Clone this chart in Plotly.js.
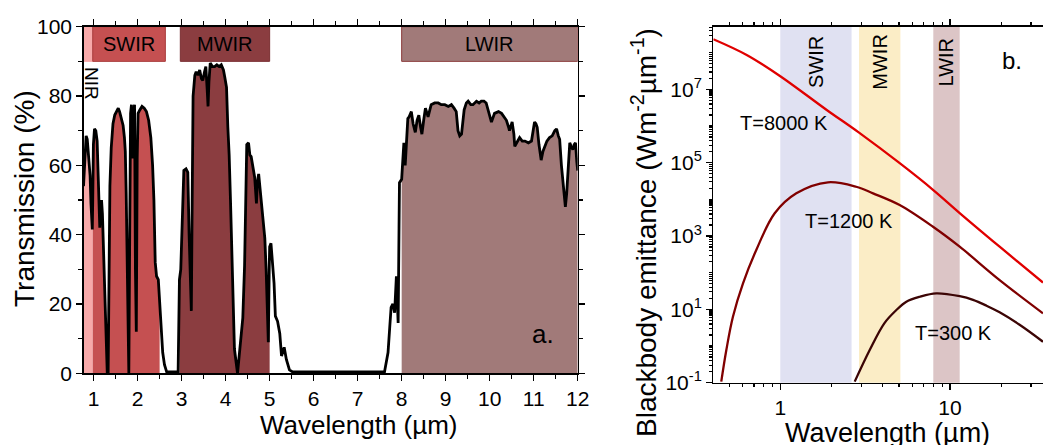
<!DOCTYPE html>
<html>
<head>
<meta charset="utf-8">
<script src="https://cdn.plot.ly/plotly-3.0.1.min.js"></script>
<style>
  html, body { margin: 0; padding: 0; background: #ffffff; overflow: hidden; }
  #chart { width: 1043px; height: 445px; }
</style>
</head>
<body>
<div id="chart"></div>
<script>
// ---------- Panel a: atmospheric transmission ----------
const wavelength = [
  0.77, 0.79, 0.81, 0.83, 0.855, 0.88, 0.90, 0.92, 0.94, 0.96, 0.97, 0.98, 0.995, 1.02, 1.05, 1.08, 1.10, 1.12, 1.14, 1.16,
  1.18, 1.20, 1.23, 1.26, 1.29, 1.31, 1.33, 1.35, 1.37, 1.40, 1.44, 1.48, 1.52, 1.56, 1.59, 1.63, 1.67, 1.70, 1.72, 1.74,
  1.76, 1.78, 1.80, 1.82, 1.84, 1.86, 1.88, 1.90, 1.93, 1.95, 1.97, 1.99, 2.01, 2.05, 2.10, 2.15, 2.20, 2.25, 2.30, 2.34,
  2.37, 2.40, 2.43, 2.47, 2.50, 2.53, 2.57, 2.61, 2.66, 2.92, 2.95, 2.98, 3.02, 3.05, 3.10, 3.14, 3.17, 3.20, 3.22, 3.24,
  3.26, 3.30, 3.33, 3.37, 3.41, 3.45, 3.48, 3.52, 3.55, 3.58, 3.60, 3.62, 3.65, 3.70, 3.75, 3.80, 3.85, 3.90, 3.95, 3.98,
  4.02, 4.05, 4.08, 4.11, 4.13, 4.17, 4.20, 4.27, 4.32, 4.39, 4.43, 4.46, 4.48, 4.52, 4.55, 4.58, 4.62, 4.66, 4.70, 4.72,
  4.75, 4.78, 4.81, 4.85, 4.89, 4.92, 4.95, 4.97, 4.99, 5.00, 5.03, 5.06, 5.10, 5.13, 5.18, 5.23, 5.27, 5.33, 5.38, 5.45,
  5.52, 7.61, 7.69, 7.73, 7.76, 7.80, 7.84, 7.88, 7.92, 7.94, 7.95, 8.00, 8.05, 8.08, 8.11, 8.14, 8.17, 8.22, 8.26, 8.31,
  8.35, 8.39, 8.43, 8.46, 8.50, 8.54, 8.60, 8.67, 8.75, 8.83, 8.90, 8.98, 9.06, 9.13, 9.19, 9.24, 9.28, 9.32, 9.36, 9.42,
  9.47, 9.51, 9.57, 9.62, 9.70, 9.76, 9.81, 9.87, 9.92, 9.97, 10.04, 10.11, 10.20, 10.27, 10.33, 10.38, 10.43, 10.45, 10.51, 10.55,
  10.57, 10.63, 10.68, 10.74, 10.80, 10.88, 10.95, 11.00, 11.02, 11.05, 11.08, 11.12, 11.15, 11.17, 11.21, 11.25, 11.30, 11.36, 11.42, 11.48,
  11.52, 11.56, 11.59, 11.63, 11.67, 11.70, 11.72, 11.75, 11.77, 11.80, 11.82, 11.85, 11.89, 11.92, 11.95, 11.98, 12.00
];
const transmission = [
  54, 60, 66, 68.5, 67.5, 64, 61, 57, 49, 42, 41.5, 50, 66, 70.5, 70, 67, 58, 47, 42, 47,
  50, 46, 32, 18, 3, 0, 0, 32, 54, 65, 72, 74.5, 75.5, 76.5, 75.5, 73, 71.5, 68, 64, 52,
  32, 10, 0, 40, 75, 77.5, 62, 74, 77.5, 30, 12, 62, 75, 76, 77, 76.5, 75.5, 73, 68, 60,
  50, 32, 28, 27, 20, 11.5, 6, 2.5, 0.4, 0.4, 27, 30, 50, 58.5, 59, 58, 40, 20, 18, 50,
  80, 86, 87, 86, 87.5, 85, 84.5, 87, 88.5, 82, 77, 84, 89.5, 88.5, 88.5, 89, 88.5, 89, 87.5, 85.5,
  82.5, 71, 63, 50, 39, 16, 7, 0, 7, 16, 31, 55, 66, 66.5, 63, 62.5, 60, 56.5, 49, 55,
  57.5, 53, 50, 44, 39, 30, 18, 9, 30, 36.5, 37.5, 33, 26, 16.5, 15, 11.5, 5, 7.5, 4, 1,
  0.4, 0.4, 6, 13.5, 19, 20, 17.5, 28, 14.5, 42, 55, 56, 66.5, 60, 67, 73.5, 74, 75.5, 72, 69.5,
  73, 74.5, 71, 69, 73, 76.5, 74, 77.5, 78, 78, 77.5, 77.5, 77, 77.5, 76.5, 75.5, 70, 68.5, 69, 76,
  78, 78.5, 77.5, 77.5, 78.5, 78, 78.5, 78.5, 78, 76, 72.5, 75, 75.5, 75, 74, 73, 71, 70, 72.5, 69,
  65.5, 67, 68, 67, 67, 66.5, 67, 71, 72.5, 72, 71, 66, 62.5, 61.5, 64, 65.5, 67, 68, 68.5, 70,
  70.5, 68.5, 67.5, 60, 53.5, 49, 48, 52, 56, 64, 66.5, 65.5, 64.5, 66, 66.5, 61, 58.5
];
const bandNames = ['NIR', 'SWIR', 'MWIR', 'LWIR'];
const fillStart = [0.77, 0.98, 2.95, 8.00];
const fillEnd   = [0.98, 2.50, 5.00, 12.00];
const barStart  = [0.77, 0.98, 2.97, 8.00];
const barEnd    = [0.98, 2.63, 5.00, 12.00];

// ---------- Panel b: blackbody emittance ----------
const wl8000 = [0.403, 0.634, 1.0, 1.877, 2.91, 5.075, 7.97, 11.4, 19.6, 35.3];
const em8000 = [2.34e8, 8.7e7, 2.29e7, 2.75e6, 6.6e5, 9.55e4, 1.8e4, 4.25e3, 513, 53.7];
const wl1200 = [0.449, 0.481, 0.526, 0.603, 0.722, 0.927, 1.243, 1.91, 2.80, 3.52, 5.05, 7.94, 11.4, 19.6, 35.3];
const em1200 = [0.107, 0.78, 6.3, 51.4, 416, 4170, 1.46e4, 2.92e4, 2.21e4, 1.46e4, 7.0e3, 1.79e3, 512, 63, 7.8];
const wl300  = [2.744, 3.364, 4.1, 4.83, 5.53, 6.63, 8.30, 11.4, 13.66, 16.4, 19.6, 25.7, 35.3];
const em300  = [0.107, 0.78, 4.17, 9.6, 16.2, 22.1, 27.4, 22.9, 18.2, 12.6, 8.3, 3.8, 1.31];
const curveLabels = ['T=8000 K', 'T=1200 K', 'T=300 K'];
const bbBands = ['SWIR', 'MWIR', 'LWIR'];
const bbStart = [1.0, 2.91, 7.97];
const bbEnd   = [2.63, 5.1, 11.4];
const yLabelPowers = [-1, 1, 3, 5, 7];

// ---------- styles ----------
const FONT = 'Liberation Sans, Arial, Helvetica, sans-serif';
const fillColors = ['#f7a9a9', '#c55051', '#8b3d40', '#a17a79'];
const barLineColors = ['#f7a9a9', '#a83a3a', '#7a2f32', '#8b3a3a'];
const bbColors = ['#e0e1f2', '#fbedc6', '#dcc5c6'];
const curveColors = ['#e00000', '#800000', '#3c0505'];

const W = 1043, H = 445;
const px = v => v / W;
const py = v => 1 - v / H;

const traces = [];
bandNames.forEach((name, i) => {
  const xs = [], ys = [];
  wavelength.forEach((w, k) => {
    if (w >= fillStart[i] - 1e-9 && w <= fillEnd[i] + 1e-9) { xs.push(w); ys.push(transmission[k]); }
  });
  traces.push({
    x: xs, y: ys, xaxis: 'x', yaxis: 'y', type: 'scatter', mode: 'lines',
    fill: 'tozeroy', fillcolor: fillColors[i], line: { width: 0, color: fillColors[i] },
    hoverinfo: 'skip', showlegend: false, name: name
  });
});
traces.push({
  x: wavelength, y: transmission, xaxis: 'x', yaxis: 'y', type: 'scatter', mode: 'lines',
  line: { color: '#000000', width: 2.8 }, showlegend: false, name: 'Transmission'
});
const bbX = [wl8000, wl1200, wl300];
const bbY = [em8000, em1200, em300];
bbX.forEach((xs, i) => {
  traces.push({
    x: xs, y: bbY[i], xaxis: 'x2', yaxis: 'y2', type: 'scatter', mode: 'lines',
    line: { color: curveColors[i], width: 2.3, shape: 'spline', smoothing: 1 },
    showlegend: false, name: curveLabels[i]
  });
});

const shapes = [];
bandNames.forEach((name, i) => {
  shapes.push({
    type: 'rect', xref: 'x', yref: 'y', x0: barStart[i], x1: barEnd[i], y0: 90, y1: 100,
    fillcolor: fillColors[i], line: { color: barLineColors[i], width: 1 }, layer: 'below'
  });
});
bbBands.forEach((name, i) => {
  shapes.push({
    type: 'rect', xref: 'x2', yref: 'y2 domain', x0: bbStart[i], x1: bbEnd[i], y0: 0, y1: 1,
    fillcolor: bbColors[i], line: { width: 0 }, layer: 'below'
  });
});

const annotations = [];
const ann = (text, x, y, size, extra) => Object.assign({
  text: text, xref: 'paper', yref: 'paper', x: x, y: y, xanchor: 'center', yanchor: 'middle',
  showarrow: false, font: { family: FONT, size: size, color: '#000' }
}, extra || {});

bandNames.forEach((name, i) => {
  if (i === 0) {
    annotations.push(ann(name, px(92), py(83), 19, { textangle: 90 }));
  } else {
    annotations.push(Object.assign(ann(name, (barStart[i] + barEnd[i]) / 2, 95, 20), { xref: 'x', yref: 'y' }));
  }
});
bbBands.forEach((name, i) => {
  annotations.push(Object.assign(ann(name, (Math.log10(bbStart[i]) + Math.log10(bbEnd[i])) / 2, py(62), 20, { textangle: -90 }), { xref: 'x2' }));
});
annotations.push(ann(curveLabels[0], px(784), py(123), 20));
annotations.push(ann(curveLabels[1], px(848.5), py(221), 20));
annotations.push(ann(curveLabels[2], px(953), py(332.5), 20));
annotations.push(ann('a.', px(543), py(334), 26));
annotations.push(ann('b.', px(1012), py(60.5), 24));
annotations.push(ann('Transmission (%)', px(24), py(199), 28, { textangle: -90 }));
annotations.push(ann('Wavelength (µm)', px(359), py(425), 26));
annotations.push(ann('Blackbody emittance (Wm<sup>-2</sup>µm<sup>-1</sup>)', px(644), py(233), 28, { textangle: -90 }));
annotations.push(ann('Wavelength (µm)', px(887), py(433), 27));

const tickFont = { family: FONT, size: 21, color: '#000' };
const axisCommon = {
  showline: true, linecolor: '#000', linewidth: 1.3, showgrid: false, zeroline: false,
  ticks: 'outside', ticklen: 6, tickwidth: 1.2, tickcolor: '#000', tickfont: tickFont
};

const minorDecades = [];
for (let p = -1; p <= 8; p++) {
  if (p % 2 === 0) minorDecades.push(Math.pow(10, p));
  for (let m = 2; m <= 9; m++) minorDecades.push(m * Math.pow(10, p));
}
const minorX = [];
for (let p = -1; p <= 1; p++) for (let m = 2; m <= 9; m++) minorX.push(m * Math.pow(10, p));

const layout = {
  width: W, height: H,
  margin: { l: 0, r: 0, t: 0, b: 0, pad: 0 },
  paper_bgcolor: '#ffffff', plot_bgcolor: 'rgba(0,0,0,0)',
  font: { family: FONT, color: '#000' },
  showlegend: false,
  xaxis: Object.assign({}, axisCommon, {
    domain: [px(83.5), px(577.7)], range: [0.77, 12], tickmode: 'linear', tick0: 0, dtick: 1,
    minor: { dtick: 0.5, tick0: 0, ticks: 'outside', ticklen: 4, tickcolor: '#000', tickwidth: 1.2 },
    mirror: 'allticks', anchor: 'y'
  }),
  yaxis: Object.assign({}, axisCommon, {
    domain: [1 - 373.3 / H, 1 - 26.7 / H], range: [0, 100], tickmode: 'linear', tick0: 0, dtick: 20,
    minor: { dtick: 10, tick0: 0, ticks: 'outside', ticklen: 4, tickcolor: '#000', tickwidth: 1.2 },
    mirror: 'allticks', anchor: 'x'
  }),
  xaxis2: Object.assign({}, axisCommon, {
    domain: [px(713.3), 1], type: 'log', range: [Math.log10(0.403), Math.log10(35.3)],
    tickmode: 'array', tickvals: [1, 10], ticktext: ['1', '10'],
    minor: { tickmode: 'array', tickvals: minorX, ticks: 'outside', ticklen: 3, tickcolor: '#000', tickwidth: 1.2 },
    mirror: 'allticks', anchor: 'y2'
  }),
  yaxis2: Object.assign({}, axisCommon, {
    domain: [1 - 382.7 / H, 1 - 26.7 / H], type: 'log', range: [-1, 8.71],
    tickmode: 'array', tickvals: yLabelPowers.map(p => Math.pow(10, p)),
    ticktext: yLabelPowers.map(p => '10<sup>' + p + '</sup>'),
    minor: { tickmode: 'array', tickvals: minorDecades, ticks: 'outside', ticklen: 3, tickcolor: '#000', tickwidth: 1.2 },
    mirror: false, anchor: 'x2'
  }),
  shapes: shapes,
  annotations: annotations
};

Plotly.newPlot('chart', traces, layout, { displayModeBar: false, staticPlot: true });
</script>
</body>
</html>
